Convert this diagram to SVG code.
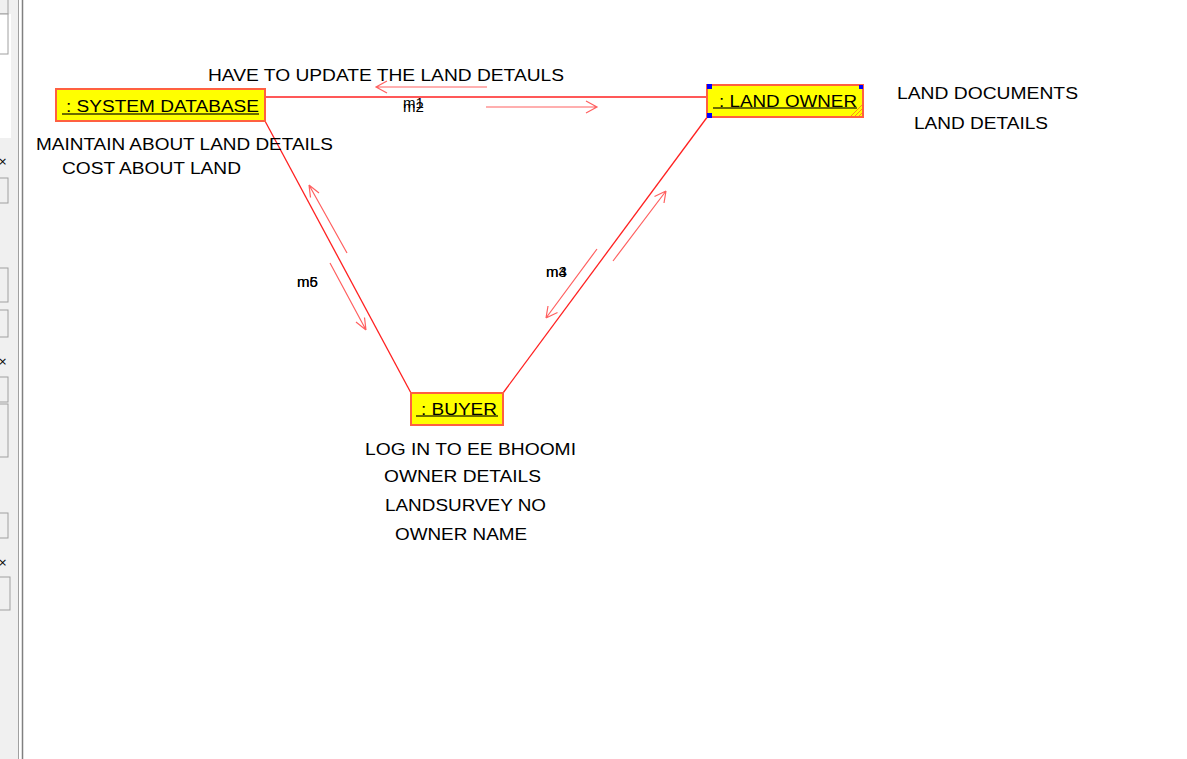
<svg xmlns="http://www.w3.org/2000/svg" width="1187" height="759" viewBox="0 0 1187 759">
<style>
.t{font-family:"Liberation Sans",Arial,sans-serif;font-size:16px;fill:#000}
.lbl{font-family:"Liberation Sans",Arial,sans-serif;font-size:15px;fill:#000}
.box{fill:#ffff00;stroke:#ff6040;stroke-width:2}
.ul{stroke:#6b6b00;stroke-width:2}
.link{stroke:#ff2020;stroke-width:1.3;fill:none}
.msg{stroke:#ff6060;stroke-width:1.2;fill:none}
.pan{fill:#f0f0f0;stroke:#a0a0a0;stroke-width:1}
.x{font-family:"DejaVu Sans",sans-serif;font-size:11px;fill:#000}
</style>
<rect width="1187" height="759" fill="#ffffff"/>
<g id="sidebar">
<rect x="0" y="0" width="18" height="759" fill="#f0f0f0"/>
<rect x="0" y="14" width="11" height="124" fill="#ffffff"/>
<rect x="-1" y="-1" width="9" height="15" class="pan"/>
<rect x="-1" y="14" width="9" height="40" fill="#ffffff" stroke="#a0a0a0"/>
<rect x="-1" y="178" width="9" height="25" class="pan"/>
<rect x="-1" y="268" width="9" height="34" class="pan"/>
<rect x="-1" y="310" width="9" height="27" class="pan"/>
<rect x="-1" y="377" width="9" height="25" class="pan"/>
<rect x="-1" y="404" width="9" height="53" class="pan"/>
<rect x="-1" y="513" width="9" height="25" class="pan"/>
<rect x="-1" y="577" width="11" height="33" class="pan"/>
<text x="-2" y="165" class="x">×</text>
<text x="-2" y="365" class="x">×</text>
<text x="-2" y="566" class="x">×</text>
<line x1="18.5" y1="0" x2="18.5" y2="759" stroke="#a0a0a0" stroke-width="1"/>
<line x1="22.5" y1="0" x2="22.5" y2="759" stroke="#808080" stroke-width="1.5"/>
</g>
<g id="connectors">
<line class="link" x1="265" y1="97" x2="707" y2="97"/>
<line class="link" x1="265" y1="121" x2="411" y2="393"/>
<line class="link" x1="708" y1="116" x2="503" y2="393"/>
<path class="msg" d="M487 87 L376 87 M387 81 L376 87 L387 93"/>
<path class="msg" d="M486 107 L597 107 M586 101 L597 107 L586 113"/>
<path class="msg" d="M347 253 L309 185 M309 185 L310.5 197.5 M309 185 L319 193"/>
<path class="msg" d="M330 263 L366 330 M366 330 L364.5 317.5 M366 330 L356 322"/>
<path class="msg" d="M613 261 L666 191 M666 191 L654.5 196.5 M666 191 L664 203"/>
<path class="msg" d="M597 249 L546 318 M546 318 L557.5 312.5 M546 318 L548 306"/>
<text class="lbl" x="403" y="108">m1</text>
<text class="lbl" x="403" y="112">m2</text>
<text class="lbl" x="546" y="277">m3</text>
<text class="lbl" x="546" y="277">m4</text>
<text class="lbl" x="297" y="287">m5</text>
<text class="lbl" x="297" y="287">m6</text>
</g>
<g id="system-database">
<rect class="box" x="56" y="89" width="209" height="32"/>
<text class="t" x="66" y="112" textLength="193" lengthAdjust="spacingAndGlyphs">: SYSTEM DATABASE</text>
<line class="ul" x1="62" y1="114" x2="259" y2="114"/>
</g>
<g id="land-owner">
<rect class="box" x="707" y="85" width="156" height="32"/>
<text class="t" x="719" y="107" textLength="138" lengthAdjust="spacingAndGlyphs">: LAND OWNER</text>
<line class="ul" x1="713" y1="108" x2="857" y2="108"/>
<path d="M851 116 L862 105 M855 116 L862 109 M859 116 L862 113" stroke="#ff8c1a" stroke-width="1"/>
<rect x="707" y="84" width="5" height="5" fill="#0000ff"/>
<rect x="859" y="85" width="4" height="4" fill="#0000ff"/>
<rect x="707" y="113" width="5" height="5" fill="#0000ff"/>
</g>
<g id="buyer">
<rect class="box" x="411" y="393" width="92" height="32"/>
<text class="t" x="421" y="415" textLength="76" lengthAdjust="spacingAndGlyphs">: BUYER</text>
<line class="ul" x1="416" y1="416" x2="498" y2="416"/>
</g>
<g id="notes">
<text class="t" x="208" y="81" textLength="356" lengthAdjust="spacingAndGlyphs">HAVE TO UPDATE THE LAND DETAULS</text>
<text class="t" x="36" y="150" textLength="297" lengthAdjust="spacingAndGlyphs">MAINTAIN ABOUT LAND DETAILS</text>
<text class="t" x="62" y="174" textLength="179" lengthAdjust="spacingAndGlyphs">COST ABOUT LAND</text>
<text class="t" x="897" y="99" textLength="181" lengthAdjust="spacingAndGlyphs">LAND DOCUMENTS</text>
<text class="t" x="914" y="129" textLength="134" lengthAdjust="spacingAndGlyphs">LAND DETAILS</text>
<text class="t" x="365" y="455" textLength="211" lengthAdjust="spacingAndGlyphs">LOG IN TO EE BHOOMI</text>
<text class="t" x="384" y="482" textLength="157" lengthAdjust="spacingAndGlyphs">OWNER DETAILS</text>
<text class="t" x="385" y="511" textLength="161" lengthAdjust="spacingAndGlyphs">LANDSURVEY NO</text>
<text class="t" x="395" y="540" textLength="132" lengthAdjust="spacingAndGlyphs">OWNER NAME</text>
</g>
</svg>
